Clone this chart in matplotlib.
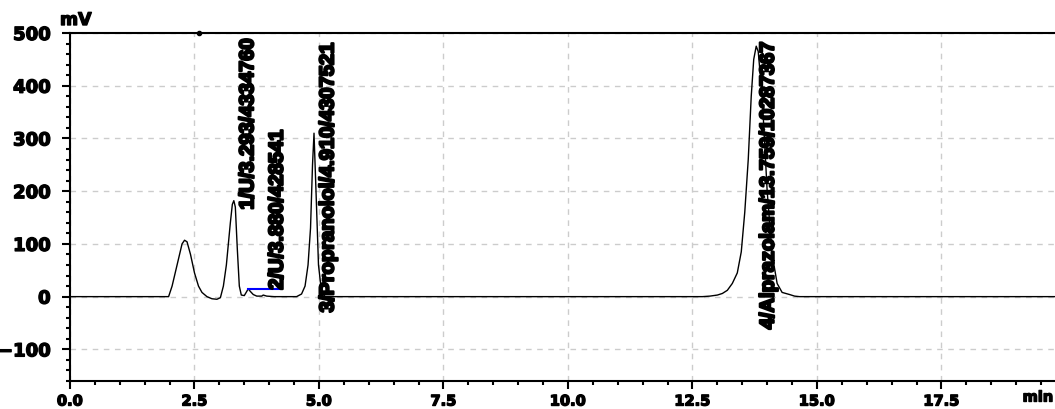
import matplotlib
matplotlib.use("Agg")
import matplotlib.pyplot as plt
import matplotlib.patheffects as pe
from matplotlib.ticker import MultipleLocator

# chromatogram trace (min, mV)
t = [0.0, 1.98, 2.05, 2.15, 2.25, 2.30, 2.35, 2.42, 2.50, 2.58, 2.65, 2.75, 2.85, 2.95,
     3.02, 3.08, 3.14, 3.18, 3.22, 3.26, 3.29, 3.32, 3.36, 3.40, 3.44, 3.50, 3.55, 3.58,
     3.62, 3.68, 3.75, 3.85, 3.88, 3.95, 4.10, 4.55, 4.65, 4.72, 4.78, 4.83, 4.87, 4.90,
     4.94, 4.99, 5.05, 5.12, 12.70, 12.85, 13.00, 13.10, 13.20, 13.30, 13.40, 13.48,
     13.55, 13.62, 13.68, 13.73, 13.78, 13.82, 13.90, 14.00, 14.10, 14.20, 14.30, 14.45,
     14.55, 14.65, 19.8]
mv = [0, 0, 20, 60, 100, 107, 104, 80, 45, 20, 8, 0, -4, -5,
      -2, 20, 60, 100, 140, 175, 182, 170, 90, 20, 3, 2, 10, 15,
      10, 4, 1, 1, 3, 1, 0, 0, 5, 20, 60, 130, 250, 310,
      200, 60, 10, 0, 0, 1, 3, 6, 12, 25, 45, 85,
      160, 260, 380, 450, 475, 465, 380, 200, 80, 25, 8, 4,
      1, 0, 0]

# integration baseline of peak 2 (blue)
base_t = [3.57, 4.22]
base_mv = [15, 15]

# event mark on the top edge
event_t = [2.6]
event_mv = [500]

# peak labels
peak_names = ["1/U/3.293/4334760", "2/U/3.880/428541",
              "3/Propranolol/4.910/4307521", "4/Alprazolam/13.759/10287367"]
label_t = [3.57, 4.16, 5.18, 14.02]
label_mv = [165, 13, -30, -62]

fig = plt.figure(figsize=(10.55, 4.09), dpi=100)
ax = fig.add_axes([70 / 1055, 28 / 409, 985 / 1055, 348 / 409])

ax.plot(t, mv, color="black", linewidth=1.0)
ax.plot(base_t, base_mv, color="#0000ff", linewidth=1.5)
ax.plot(event_t, event_mv, "o", color="black", markersize=3, clip_on=False)

heavy = [pe.withStroke(linewidth=1.6, foreground="black")]
for name, x, y in zip(peak_names, label_t, label_mv):
    ax.text(x, y, name, rotation=90, ha="center", va="bottom",
            fontsize=14.5, fontweight="bold", color="black",
            family=["Liberation Sans", "DejaVu Sans"], path_effects=heavy)

ax.set_xlim(0, 19.78)
ax.set_ylim(-160, 500)
ax.xaxis.set_major_locator(MultipleLocator(2.5))
ax.xaxis.set_minor_locator(MultipleLocator(0.5))
ax.yaxis.set_major_locator(MultipleLocator(100))
ax.yaxis.set_minor_locator(MultipleLocator(20))
ax.set_xticks([0, 2.5, 5, 7.5, 10, 12.5, 15, 17.5])
ax.set_xticklabels(["0.0", "2.5", "5.0", "7.5", "10.0", "12.5", "15.0", "17.5"])

ax.grid(True, which="major", color="#cccccc", linestyle=(0, (4, 4)), linewidth=1.0)
ax.tick_params(axis="both", which="major", direction="out", length=6, width=1.5)
ax.tick_params(axis="both", which="minor", direction="out", length=3, width=1.5)
ax.tick_params(axis="y", labelsize=13, pad=8)
ax.tick_params(axis="x", labelsize=10.5, pad=3)
tick_fx = [pe.withStroke(linewidth=1.0, foreground="black")]
for lab in ax.get_xticklabels() + ax.get_yticklabels():
    lab.set_fontweight("bold")
    lab.set_path_effects(tick_fx)

for side in ["left", "bottom", "top"]:
    ax.spines[side].set_linewidth(1.5)
ax.spines["right"].set_visible(False)

fig.text(60 / 1055, 1 - 20 / 409, "mV", fontsize=12.5, fontweight="bold", va="center",
         path_effects=tick_fx)
fig.text(1038 / 1055, 1 - 397 / 409, "min", fontsize=10.5, fontweight="bold",
         va="center", ha="center", path_effects=tick_fx)

fig.savefig("out.png", dpi=100)
